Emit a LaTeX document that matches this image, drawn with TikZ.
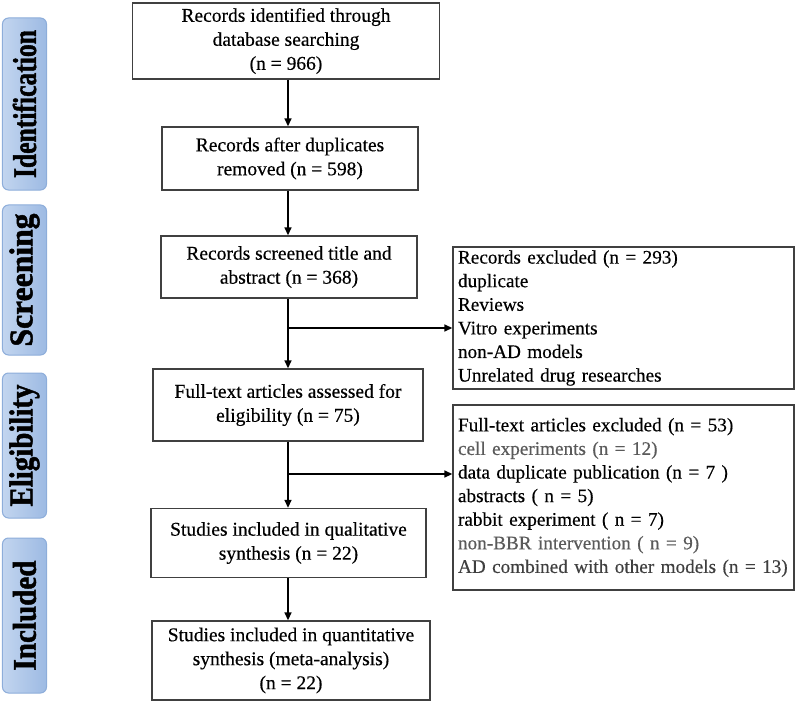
\documentclass[tikz,border=0pt]{standalone}
\usepackage{fontspec}
\usepackage{graphicx}
\setmainfont[FakeBold=0.4]{Liberation Serif}
\newfontfamily\stagefont[FakeBold=1.5]{Liberation Serif Bold}
\usetikzlibrary{arrows.meta}
\definecolor{boxgray}{HTML}{404040}
\definecolor{textgray}{HTML}{5A5A5A}
\definecolor{stagelight}{HTML}{C2D5EF}
\definecolor{stagedark}{HTML}{9DBAE3}
\definecolor{stageedge}{HTML}{8DADDA}
\begin{document}
\begin{tikzpicture}[x=1bp,y=-1bp,
  box/.style={draw=boxgray, line width=1.4bp, align=center, inner sep=0pt,
    font=\fontsize{19.5bp}{24bp}\selectfont},
  listbox/.style={box, align=left, text width=331bp, inner xsep=5bp,
    minimum width=341bp, font=\fontsize{19.2bp}{23.6bp}\selectfont},
  stage/.style={draw=stageedge, line width=1bp, rounded corners=6bp,
    left color=stagelight, right color=stagedark, rotate=90,
    minimum height=44bp, inner sep=0pt,
    font=\stagefont\fontsize{33bp}{36bp}\selectfont},
  arr/.style={-{Triangle[length=8bp,width=7bp]}, line width=1.6bp}]
\useasboundingbox (0,0) rectangle (796,702);
% stages
\node[stage, minimum width=172bp] (ident) at (24.5,104)
  {\resizebox{148bp}{\height}{Identification}};
\node[stage, minimum width=150bp] (screen) at (24.5,280)
  {\resizebox{133bp}{\height}{Screening}};
\node[stage, minimum width=145bp] (elig) at (24.5,445.5)
  {\resizebox{122bp}{\height}{Eligibility}};
\node[stage, minimum width=155bp] (incl) at (24.5,615.5)
  {\resizebox{110bp}{\height}{Included}};
% main column
\node[box, minimum width=307bp, minimum height=76bp] (found) at (286,41)
  {Records identified through\\database searching\\(n = 966)};
\node[box, minimum width=256bp, minimum height=63bp] (dedup) at (290,158.5)
  {Records after duplicates\\removed (n = 598)};
\node[box, minimum width=256bp, minimum height=62bp] (screened) at (289,267)
  {Records screened title and\\abstract (n = 368)};
\node[box, minimum width=270bp, minimum height=72bp] (fulltext) at (288,405)
  {Full-text articles assessed for\\eligibility (n = 75)};
\node[box, minimum width=275bp, minimum height=69bp] (qual) at (288.5,543)
  {Studies included in qualitative\\synthesis (n = 22)};
\node[box, minimum width=278bp, minimum height=79bp] (quant) at (291,660.5)
  {Studies included in quantitative\\synthesis (meta-analysis)\\(n = 22)};
% exclusions
\node[listbox, minimum height=142bp] (excl1) at (623.5,318)
  {Records excluded (n = 293)\\duplicate\\Reviews\\Vitro experiments\\non-AD models\\Unrelated drug researches};
\node[listbox, minimum height=185bp] (excl2) at (623.5,497.5)
  {Full-text articles excluded (n = 53)\\
   {\color{textgray}cell experiments (n = 12)}\\
   data duplicate publication (n = 7 )\\
   abstracts ( n = 5)\\
   rabbit experiment ( n = 7)\\
   {\color{textgray}non-BBR intervention ( n = 9)}\\
   {\color{textgray!70!black}AD combined with other models (n = 13)}};
\coordinate (split1) at (288,328);
\coordinate (split2) at (288,474);
% arrows
\draw[arr] (found.south -| 288,0) -- (dedup.north -| 288,0);
\draw[arr] (dedup.south -| 288,0) -- (screened.north -| 288,0);
\draw[arr] (screened.south -| split1) -- (fulltext.north -| split1);
\draw[arr] (split1) -- (split1 -| excl1.west);
\draw[arr] (fulltext.south -| split2) -- (qual.north -| split2);
\draw[arr] (split2) -- (split2 -| excl2.west);
\draw[arr] (qual.south -| 288,0) -- (quant.north -| 288,0);
\end{tikzpicture}
\end{document}
